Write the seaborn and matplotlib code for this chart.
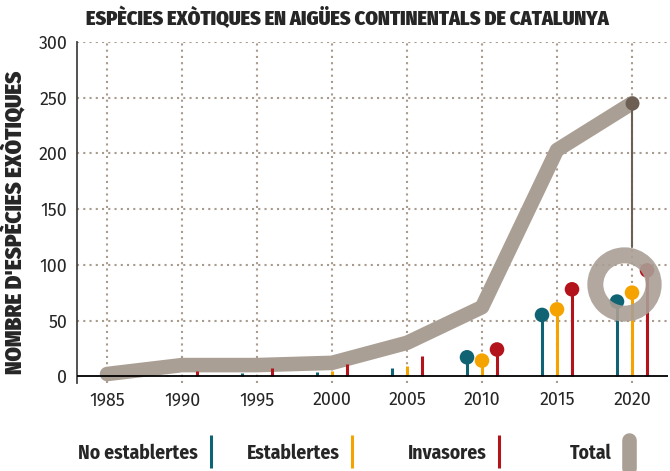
import numpy as np
import pandas as pd
import matplotlib
matplotlib.use("Agg")
import matplotlib.pyplot as plt
from matplotlib.lines import Line2D
import seaborn as sns

# Dades
anys = [1985, 1990, 1995, 2000, 2005, 2010, 2015, 2020]
total = [2, 10, 10, 12, 30, 62, 203, 245]
no_establertes = [0, 1, 3, 4, 7, 17, 55, 67]
establertes = [0, 0, 0, 5, 9, 14, 60, 75]
invasores = [0, 5, 7, 11, 18, 24, 78, 95]
desplacament = {"No establertes": -1, "Establertes": 0, "Invasores": 1}
any_punts = 2010  # a partir d'aquí els pals porten punt

colors = {"No establertes": "#0f6373", "Establertes": "#f5a300", "Invasores": "#b3131b"}
color_total = "#aa9f95"
color_fosc = "#6e5f55"
grid_color = "#a89a8c"

sns.set_style("white")
plt.rcParams["font.family"] = ["Fira Sans", "DejaVu Sans"]
titol_font = ["Fira Sans Condensed", "Fira Sans Extra Condensed", "DejaVu Sans"]

df_total = pd.DataFrame({"any": anys, "total": total})
series = {"No establertes": no_establertes, "Establertes": establertes, "Invasores": invasores}

fig = plt.figure(figsize=(6.7, 4.71), dpi=100)
ax = fig.add_axes([0.115, 0.187, 0.882, 0.724])

ax.set_xlim(1983, 2022.4)
ax.set_ylim(-6, 300)

# Graella puntejada
for a in anys:
    ax.axvline(a, color=grid_color, lw=1.5, ls=(0, (1, 2)), zorder=0)
for v in range(50, 301, 50):
    ax.axhline(v, color=grid_color, lw=1.5, ls=(0, (1, 2)), zorder=0)

# Línia total
sns.lineplot(data=df_total, x="any", y="total", ax=ax, color=color_total, lw=10.5,
             solid_capstyle="round", solid_joinstyle="round", zorder=2)

# Pals per categoria
for nom, vals in series.items():
    xs = np.array(anys) + desplacament[nom]
    ax.vlines(xs, 0, vals, color=colors[nom], lw=2.2, zorder=3)
    d = pd.DataFrame({"x": xs, "y": vals})
    d = d[np.array(anys) >= any_punts]
    sns.scatterplot(data=d, x="x", y="y", ax=ax, color=colors[nom], s=110,
                    edgecolor="none", zorder=4)

ax.axhline(0, color="black", lw=1.3, zorder=5)

# Cercle destacat sobre el total 2020
cx = anys[-1] - 0.5
cy = np.mean([no_establertes[-1], establertes[-1], invasores[-1]]) + 4
fig.canvas.draw()
px_per_unit = ax.transData.transform((0, 1))[1] - ax.transData.transform((0, 0))[1]
ytop = cy + 37 / px_per_unit
ax.plot([anys[-1], anys[-1]], [ytop, total[-1]], color=color_fosc, lw=1.5, zorder=5)
ax.plot([cx], [cy], marker="o", ms=42, mfc="none", mec=color_total, mew=11.5,
        alpha=0.9, zorder=6)
ax.plot([anys[-1]], [total[-1]], marker="o", ms=9, color=color_fosc, zorder=6)

# Eixos
sns.despine(ax=ax, top=True, right=True, bottom=True)
ax.spines["left"].set_color("#444444")
ax.spines["left"].set_linewidth(1.3)
ax.set_xticks(anys)
ax.set_yticks(range(0, 301, 50))
ax.tick_params(axis="y", length=4, width=1, color="#444444", labelsize=12.8, pad=3)
ax.tick_params(axis="x", length=0, labelsize=12.8, pad=6)
ax.set_xlabel("")
ax.set_ylabel("")

fig.text(0.518, 0.962, "ESPÈCIES EXÒTIQUES EN AIGÜES CONTINENTALS DE CATALUNYA",
         ha="center", va="center", fontsize=14.5, fontweight=900, family=titol_font)
fig.text(0.021, 0.527, "NOMBRE D'ESPÈCIES EXÒTIQUES", rotation=90, ha="center",
         va="center", fontsize=16.5, fontweight=900, family=titol_font)

# Llegenda manual
W, H = 670, 471
llegenda = [("No establertes", 198, 211, colors["No establertes"], 2.2),
            ("Establertes", 340, 352, colors["Establertes"], 2.2),
            ("Invasores", 487, 499, colors["Invasores"], 2.2),
            ("Total", 612, 629, color_total, 10.5)]
for nom, xt, xl, c, w in llegenda:
    fig.text(xt / W, 1 - 453 / H, nom, ha="right", va="center", fontsize=14,
             fontweight="bold", family=titol_font)
    cap = "round" if nom == "Total" else "butt"
    y0 = 440 if nom == "Total" else 435
    fig.add_artist(Line2D([xl / W, xl / W], [1 - y0 / H, 1 - 468 / H], color=c, lw=w,
                          solid_capstyle=cap, transform=fig.transFigure))

fig.savefig("out.png", dpi=100)
